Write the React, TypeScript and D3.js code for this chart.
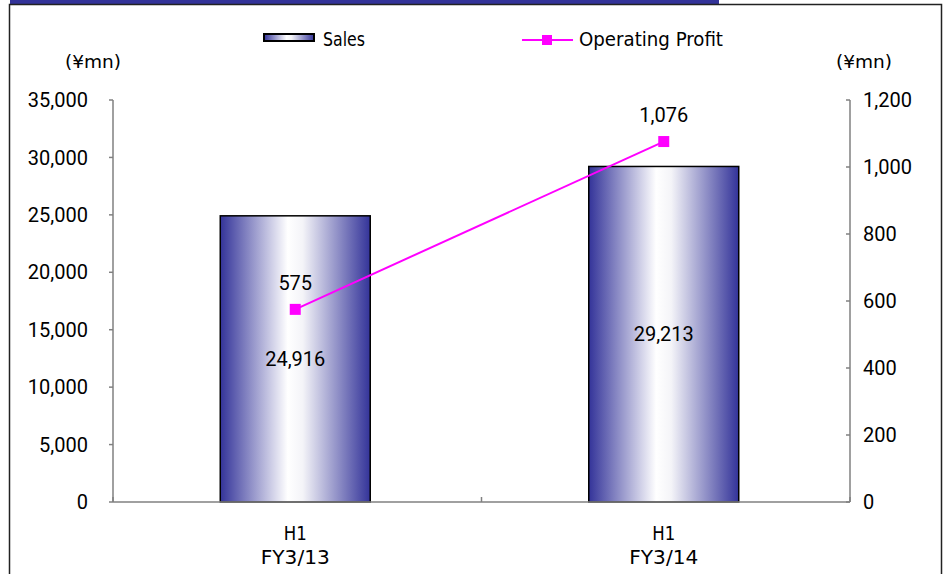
import React from 'react';
import * as d3 from 'd3';

// chart values
const categories = ['FY3/13', 'FY3/14'];
const periodLabels = ['H1', 'H1'];
const sales = [24916, 29213];
const operatingProfit = [575, 1076];
const salesTicks = [0, 5000, 10000, 15000, 20000, 25000, 30000, 35000];
const profitTicks = [0, 200, 400, 600, 800, 1000, 1200];

const W = 943;
const H = 574;
const left = 113;
const right = 850;
const top = 100;
const bottom = 502;

const gothic = '"DejaVu Sans Condensed", "Liberation Sans", sans-serif';
const sans = 'Roboto, "Liberation Sans", Arial, sans-serif';

export default function App() {
    const x = d3.scaleBand<string>()
        .domain(categories)
        .range([left, right])
        .paddingInner(0.593)
        .paddingOuter(0.2965);

    const ySales = d3.scaleLinear().domain([0, 35000]).range([bottom, top]);
    const yProfit = d3.scaleLinear().domain([0, 1200]).range([bottom, top]);

    const fmt = d3.format(',');
    // bars sit a touch left of the band centre in the original
    const cx = (c: string) => (x(c) as number) + x.bandwidth() / 2 - 2;

    const line = d3.line<number>()
        .x((d, i) => cx(categories[i]))
        .y(d => yProfit(d));

    // tick positions between categories (Excel style)
    const step = x.step();
    const catTicks = d3.range(categories.length + 1).map(i => left + i * step);

    return (
        <svg width={W} height={H} style={{ position: 'absolute', left: 0, top: 0, background: '#fff' }}>
            <defs>
                <linearGradient id="barGrad" x1="0" x2="1" y1="0" y2="0">
                    <stop offset="0" stopColor="#333399" />
                    <stop offset="0.45" stopColor="#ffffff" />
                    <stop offset="0.55" stopColor="#f4f4f8" />
                    <stop offset="1" stopColor="#333399" />
                </linearGradient>
            </defs>

            {/* header band + frame */}
            <rect x={10} y={0} width={709} height={4} fill="#333399" />
            <path d={`M9.5,${H} V4.5 H941.5 V${H}`} fill="none" stroke="#222" strokeWidth={1.5} />

            {/* legend */}
            <rect x={264} y={34} width={50} height={7} fill="url(#barGrad)" stroke="#000" strokeWidth={2} />
            <text x={323} y={46} fontFamily={gothic} fontSize={19} textLength={42} lengthAdjust="spacingAndGlyphs">Sales</text>
            <line x1={522} x2={573} y1={40} y2={40} stroke="#ff00ff" strokeWidth={2} />
            <rect x={542} y={35} width={10} height={10} fill="#ff00ff" />
            <text x={579} y={46} fontFamily={gothic} fontSize={19} textLength={144} lengthAdjust="spacingAndGlyphs">Operating Profit</text>

            {/* units */}
            <text x={65} y={68} fontFamily={gothic} fontSize={18} textLength={56} lengthAdjust="spacingAndGlyphs">(¥mn)</text>
            <text x={836} y={68} fontFamily={gothic} fontSize={18} textLength={56} lengthAdjust="spacingAndGlyphs">(¥mn)</text>

            {/* bars */}
            {sales.map((v, i) => (
                <rect key={i} x={cx(categories[i]) - x.bandwidth() / 2} y={ySales(v)} width={x.bandwidth()}
                    height={bottom - ySales(v)} fill="url(#barGrad)" stroke="#000" strokeWidth={1.5} />
            ))}

            {/* axes */}
            <g stroke="#808080" strokeWidth={1.5}>
                <line x1={left} x2={left} y1={top} y2={bottom} />
                <line x1={right} x2={right} y1={top} y2={bottom} />
                <line x1={left} x2={right} y1={bottom} y2={bottom} />
                {salesTicks.map(t => (
                    <line key={t} x1={left - 4} x2={left} y1={ySales(t)} y2={ySales(t)} />
                ))}
                {profitTicks.map(t => (
                    <line key={t} x1={right - 4} x2={right} y1={yProfit(t)} y2={yProfit(t)} />
                ))}
                {catTicks.map((t, i) => (
                    <line key={i} x1={t} x2={t} y1={bottom - 5} y2={bottom} />
                ))}
            </g>

            <g fontFamily={sans} fontSize={20} fill="#000">
                {salesTicks.map(t => (
                    <text key={t} x={88} y={ySales(t)} dy="0.36em" textAnchor="end">{fmt(t)}</text>
                ))}
                {profitTicks.map(t => (
                    <text key={t} x={863} y={yProfit(t)} dy="0.36em">{fmt(t)}</text>
                ))}
            </g>

            {/* category labels */}
            {categories.map((c, i) => (
                <g key={c} fontFamily={gothic} fontSize={19} textAnchor="middle">
                    <text x={cx(c)} y={540} textLength={23} lengthAdjust="spacingAndGlyphs">{periodLabels[i]}</text>
                    <text x={cx(c)} y={564} textLength={69} lengthAdjust="spacingAndGlyphs">{c}</text>
                </g>
            ))}

            {/* sales labels */}
            {sales.map((v, i) => (
                <text key={i} x={cx(categories[i])} y={(ySales(v) + bottom) / 2} dy="0.36em"
                    textAnchor="middle" fontFamily={sans} fontSize={20}>{fmt(v)}</text>
            ))}

            {/* operating profit line */}
            <path d={line(operatingProfit) || ''} fill="none" stroke="#ff00ff" strokeWidth={2} />
            {operatingProfit.map((v, i) => (
                <g key={i}>
                    <rect x={cx(categories[i]) - 5.5} y={yProfit(v) - 5.5} width={11} height={11} fill="#ff00ff" />
                    <text x={cx(categories[i])} y={yProfit(v) - 27} dy="0.36em" textAnchor="middle"
                        fontFamily={sans} fontSize={20}>{fmt(v)}</text>
                </g>
            ))}
        </svg>
    );
}
